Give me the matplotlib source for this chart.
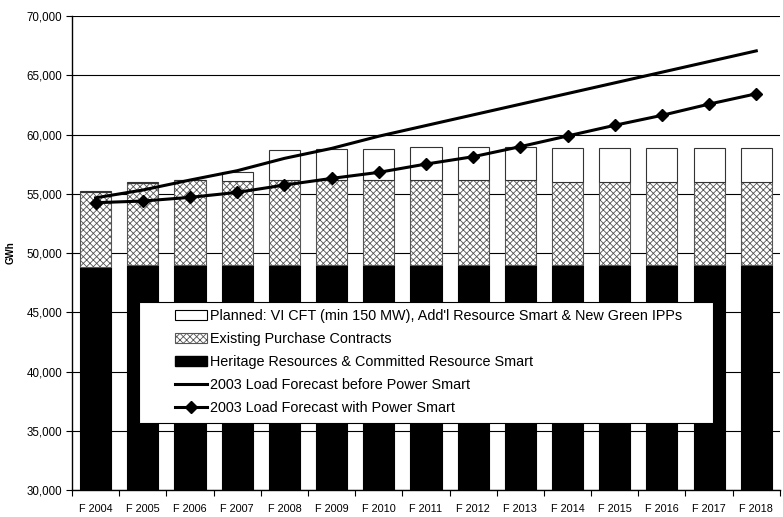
import numpy as np
import matplotlib
matplotlib.use("Agg")
import matplotlib.pyplot as plt
from matplotlib.patches import Patch, Rectangle
from matplotlib.lines import Line2D

plt.rcParams['font.family'] = ['Liberation Sans', 'DejaVu Sans']
plt.rcParams['hatch.linewidth'] = 0.6

years = ['F 2004', 'F 2005', 'F 2006', 'F 2007', 'F 2008', 'F 2009', 'F 2010', 'F 2011',
         'F 2012', 'F 2013', 'F 2014', 'F 2015', 'F 2016', 'F 2017', 'F 2018']
# GWh
heritage = [48850, 49000, 49000, 49000, 49000, 49000, 49000, 49000,
            49000, 49000, 49000, 49000, 49000, 49000, 49000]
existing = [6320, 6930, 7160, 7080, 7140, 7140, 7140, 7140,
            7140, 7140, 6970, 6970, 6970, 6970, 6970]
planned = [80, 70, 40, 780, 2530, 2610, 2660, 2780,
           2780, 2780, 2860, 2860, 2860, 2860, 2860]
load_before = [54660, 55320, 56160, 56950, 57990, 58830, 59860, 60760,
               61660, 62560, 63460, 64360, 65260, 66160, 67060]
load_with = [54250, 54390, 54700, 55120, 55740, 56300, 56810, 57510,
             58130, 58980, 59880, 60780, 61620, 62570, 63440]

labels = ["Planned: VI CFT (min 150 MW), Add'l Resource Smart & New Green IPPs",
          "Existing Purchase Contracts",
          "Heritage Resources & Committed Resource Smart",
          "2003 Load Forecast before Power Smart",
          "2003 Load Forecast with Power Smart"]

x = np.arange(len(years))
heritage = np.array(heritage)
existing = np.array(existing)
planned = np.array(planned)

fig = plt.figure(figsize=(7.83, 5.17), dpi=100)
ax = fig.add_axes([0.092, 0.052, 0.904, 0.917])

w = 0.66
ax.bar(x, heritage, w, color='black', edgecolor='black', linewidth=0.8, zorder=2)
ax.bar(x, existing, w, bottom=heritage, color='white', edgecolor='#555555',
       hatch='xxxxx', linewidth=0.8, zorder=2)
ax.bar(x, planned, w, bottom=heritage + existing, color='white', edgecolor='#333333',
       linewidth=0.8, zorder=2)

ax.plot(x, load_before, color='black', linewidth=2.2, zorder=3)
ax.plot(x, load_with, color='black', linewidth=2.2, marker='D', markersize=6, zorder=3)

ax.set_xlim(-0.5, len(years) - 0.5)
ax.set_ylim(30000, 70000)
ax.set_yticks(np.arange(30000, 70001, 5000))
ax.yaxis.set_major_formatter(matplotlib.ticker.StrMethodFormatter('{x:,.0f}'))
ax.yaxis.grid(True, color='black', linewidth=0.8, zorder=0)
ax.set_axisbelow(True)

ax.set_xticks(x)
ax.set_xticklabels(years, fontsize=7.8)
ax.set_xticks(np.arange(-0.5, len(years), 1), minor=True)
ax.tick_params(axis='x', which='major', length=0, pad=10)
ax.tick_params(axis='x', which='minor', length=4, width=0.8, direction='out')
ax.tick_params(axis='y', labelsize=8.3, length=4, width=0.8, direction='out', pad=3)

for s in ['top', 'right']:
    ax.spines[s].set_visible(False)
ax.spines['left'].set_linewidth(1.0)
ax.spines['bottom'].set_linewidth(1.0)

ax.set_ylabel('GWh', fontsize=7, fontweight='bold', labelpad=8)

# legend box drawn separately so it can be wider than its contents
frame = Rectangle((0.0946, 0.1414), 0.8108, 0.2552, transform=ax.transAxes,
                  facecolor='white', edgecolor='black', linewidth=0.8, zorder=4)
ax.add_patch(frame)

handles = [Patch(facecolor='white', edgecolor='black', linewidth=0.8),
           Patch(facecolor='white', edgecolor='#555555', hatch='xxxxx', linewidth=0.8),
           Patch(facecolor='black', edgecolor='black'),
           Line2D([], [], color='black', linewidth=2.2),
           Line2D([], [], color='black', linewidth=2.2, marker='D', markersize=6)]
leg = ax.legend(handles, labels, loc='upper left', bbox_to_anchor=(0.1455, 0.382),
                borderaxespad=0, borderpad=0, fontsize=10.4, frameon=False,
                handlelength=2.2, handletextpad=0.2, labelspacing=0.62)
leg.set_zorder(5)

fig.savefig('out.png', dpi=100)
